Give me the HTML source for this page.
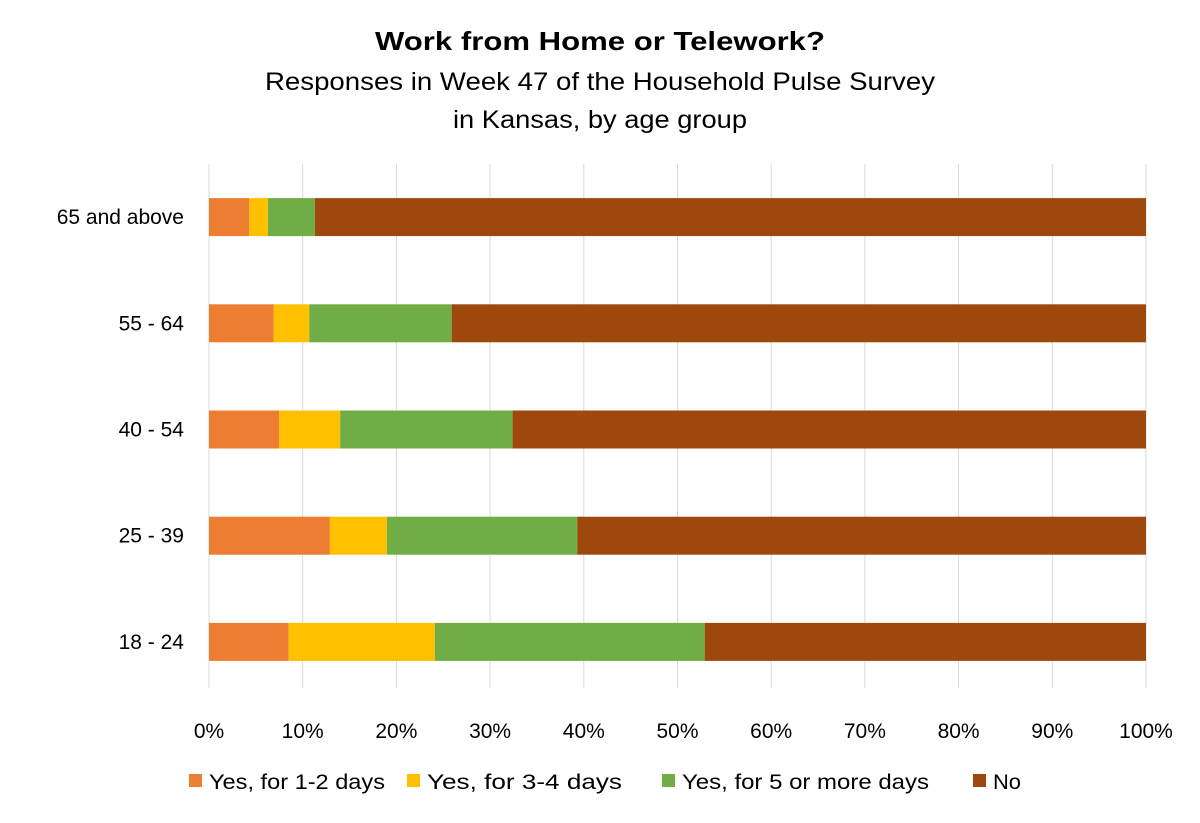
<!DOCTYPE html>
<html><head><meta charset="utf-8"><style>
body{margin:0;background:#fff;}
svg text{font-family:"Liberation Sans",sans-serif;fill:#000;}
</style></head><body>
<svg id="chart" width="1200" height="818" viewBox="0 0 1200 818">
<rect width="1200" height="818" fill="#fff"/>
<text x="600" y="50" text-anchor="middle" font-size="26" font-weight="bold" textLength="450" lengthAdjust="spacingAndGlyphs">Work from Home or Telework?</text>
<text x="600" y="90" text-anchor="middle" font-size="25" textLength="670" lengthAdjust="spacingAndGlyphs">Responses in Week 47 of the Household Pulse Survey</text>
<text x="600" y="128" text-anchor="middle" font-size="25" textLength="294" lengthAdjust="spacingAndGlyphs">in Kansas, by age group</text>
<g id="grid"></g><g id="bars"></g><g id="ylabels"></g><g id="xlabels"></g><g id="legend"></g>
</svg>
<script>
const categories=["65 and above","55 - 64","40 - 54","25 - 39","18 - 24"];
const seriesNames=["Yes, for 1-2 days","Yes, for 3-4 days","Yes, for 5 or more days","No"];
const yes12=[4.3,6.9,7.5,12.9,8.5];
const yes34=[2.0,3.8,6.5,6.1,15.6];
const yes5=[5.0,15.2,18.4,20.3,28.8];
const no=[88.7,74.1,67.6,60.7,47.1];
const xTicks=[0,10,20,30,40,50,60,70,80,90,100];
const colors=["#ED7D31","#FFC000","#70AD47","#9E480E"];
const ns="http://www.w3.org/2000/svg";
const X0=209,X1=1146,Y0=164,Y1=695;
const x=v=>X0+(X1-X0)*v/100;
const band=(Y1-Y0)/categories.length;
const yc=i=>Y0+band*(i+0.5);
const barH=38;
function mk(t,a,p){const e=document.createElementNS(ns,t);for(const k in a)e.setAttribute(k,a[k]);p.appendChild(e);return e;}
const grid=document.getElementById('grid'),bars=document.getElementById('bars'),yl=document.getElementById('ylabels'),xl=document.getElementById('xlabels'),lg=document.getElementById('legend');
xTicks.forEach(t=>{
 const l=mk('line',{x1:x(t),x2:x(t),y1:Y0,y2:688,stroke:'#d9d9d9','stroke-width':1},grid);
 
 
 const tx=mk('text',{x:x(t),y:738,'text-anchor':'middle','font-size':21},xl);
 tx.textContent=t+'%';
 
 
});
const series=[yes12,yes34,yes5,no];
categories.forEach((c,i)=>{
 let acc=0;
 series.forEach((s,j)=>{
  const r=mk('rect',{x:x(acc),y:yc(i)-barH/2,width:x(acc+s[i])-x(acc),height:barH,fill:colors[j]},bars);
  
  
  acc+=s[i];
 });
 const t=mk('text',{x:184,y:yc(i)+7,'text-anchor':'end','font-size':21},yl);
 t.textContent=c;
 
 
});
const legX=[189,407,662,973];
const legW=[176,195,247,28];
seriesNames.forEach((n,j)=>{
 const g=mk('g',{},lg);
 
 
 mk('rect',{x:legX[j],y:774,width:13,height:13,fill:colors[j]},g);
 const t=mk('text',{x:legX[j]+20,y:789,'font-size':21,textLength:legW[j],lengthAdjust:'spacingAndGlyphs'},g);
 t.textContent=n;
});
</script>
</body></html>
